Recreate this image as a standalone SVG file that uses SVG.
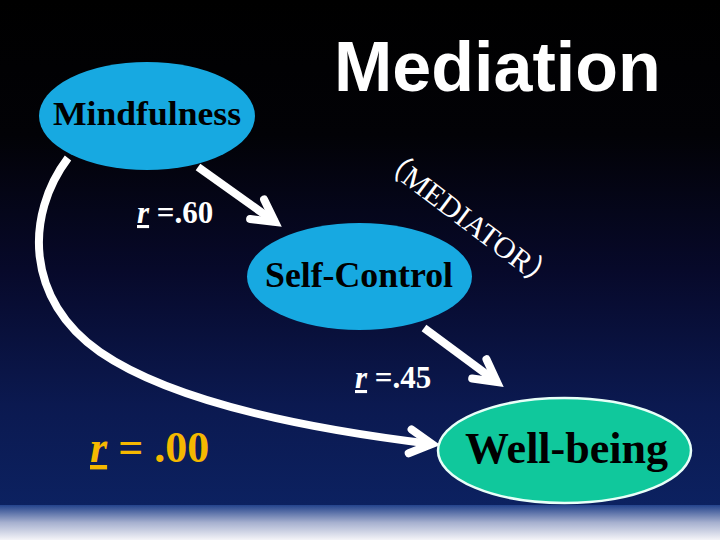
<svg xmlns="http://www.w3.org/2000/svg" width="720" height="540" viewBox="0 0 720 540">
  <defs>
    <linearGradient id="bg" x1="0" y1="0" x2="0" y2="1">
      <stop offset="0" stop-color="#000000"/>
      <stop offset="0.25" stop-color="#020206"/>
      <stop offset="0.5" stop-color="#07092a"/>
      <stop offset="0.75" stop-color="#0b1950"/>
      <stop offset="1" stop-color="#0c2466"/>
    </linearGradient>
    <linearGradient id="band" x1="0" y1="0" x2="0" y2="1">
      <stop offset="0" stop-color="#23438c"/>
      <stop offset="0.5" stop-color="#a6b0cf"/>
      <stop offset="1" stop-color="#f4f4f8"/>
    </linearGradient>
    <marker id="chev" markerUnits="userSpaceOnUse" markerWidth="60" markerHeight="60" viewBox="-40 -30 60 60" refX="0" refY="0" orient="auto">
      <path d="M-22,-12 L0,0 L-22,12" fill="none" stroke="#ffffff" stroke-width="8" stroke-linecap="round" stroke-linejoin="miter"/>
    </marker>
    <style>
      .node-blue { fill: #17a9e1; }
      .node-green { fill: #10c89c; stroke: #e8fff8; stroke-width: 2.5; }
      .label { font-family: "Liberation Serif", "Times New Roman", serif; font-weight: bold; fill: #000000; }
      .conn { fill: none; stroke: #ffffff; stroke-width: 8; marker-end: url(#chev); }
      .coef { font-family: "Liberation Serif", "Times New Roman", serif; font-weight: bold; }
    </style>
  </defs>
  <rect x="0" y="0" width="720" height="540" fill="url(#bg)"/>
  <rect x="0" y="505" width="720" height="35" fill="url(#band)"/>

  <text x="334" y="91" font-family="Liberation Sans, Arial, sans-serif" font-weight="bold" font-size="70" fill="#ffffff">Mediation</text>

  <g id="connectors">
    <path class="conn" d="M198,167 L275,222"/>
    <path class="conn" d="M424,328 L497,382"/>
    <path class="conn" d="M68,158 C25,215 25,300 100,352 C170,400 300,428 432,444"/>
  </g>

  <g id="mindfulness">
    <ellipse class="node-blue" cx="147" cy="116" rx="108" ry="54"/>
    <text class="label" x="147" y="125" font-size="34" text-anchor="middle" textLength="188" lengthAdjust="spacingAndGlyphs">Mindfulness</text>
  </g>
  <g id="self-control">
    <ellipse class="node-blue" cx="359.5" cy="276.5" rx="112.5" ry="53.5"/>
    <text class="label" x="359" y="287" font-size="35" text-anchor="middle" textLength="188" lengthAdjust="spacingAndGlyphs">Self-Control</text>
  </g>
  <g id="well-being">
    <ellipse class="node-green" cx="564.5" cy="450.5" rx="126.5" ry="52.5"/>
    <text class="label" x="566.5" y="463" font-size="44" text-anchor="middle" textLength="203" lengthAdjust="spacingAndGlyphs">Well-being</text>
  </g>

  <text class="coef" x="137" y="223" font-size="31" fill="#ffffff"><tspan font-style="italic" text-decoration="underline">r</tspan> =.60</text>
  <text class="coef" x="355" y="388" font-size="31" fill="#ffffff"><tspan font-style="italic" text-decoration="underline">r</tspan> =.45</text>
  <text class="coef" x="90" y="462" font-size="44" fill="#f5b800"><tspan font-style="italic" text-decoration="underline">r</tspan> = .00</text>

  <text transform="translate(376,163) rotate(37)" font-family="Liberation Serif, 'Noto Sans CJK SC', serif" font-size="30" fill="#ffffff">（MEDIATOR）</text>
</svg>
